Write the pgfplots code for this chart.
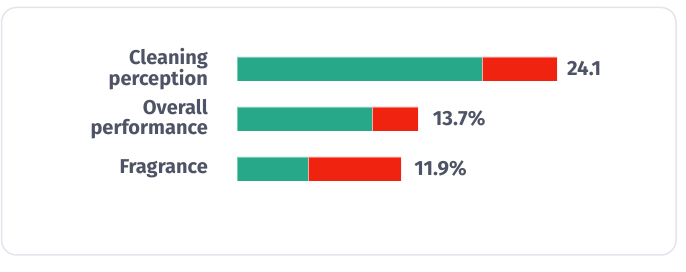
\documentclass[border=0pt]{standalone}
\usepackage{pgfplots}
\pgfplotsset{compat=1.18}
\usepackage{fontspec}
\setmainfont{Fira Sans}
\definecolor{cgreen}{HTML}{27A889}
\definecolor{cred}{HTML}{F02311}
\definecolor{ctext}{HTML}{4E5465}
\definecolor{cframe}{HTML}{E4E4EC}
\begin{document}
\begin{tikzpicture}[x=1pt,y=1pt]
\path (0,0) rectangle (686,272);
\draw[cframe, line width=1.5pt, rounded corners=15pt] (1.5,272-255) rectangle (676,272-7.5);
\begin{axis}[
  at={(237pt,78pt)}, anchor=south west,
  scale only axis, width=400pt, height=150pt,
  xbar stacked, bar width=24pt,
  xmin=0, xmax=30.12, ymin=-0.5, ymax=2.5,
  axis line style={draw=none},
  xtick=\empty,
  ytick={0,1,2},
  yticklabels={Fragrance,{Overall\\performance},{Cleaning\\perception}},
  yticklabel style={align=right, font=\fontsize{20}{19.5}\selectfont\bfseries, text=ctext, inner sep=0pt, xshift=-29pt},
  major tick length=0pt,
  clip=false,
]
\addplot[fill=cgreen, draw=white, draw opacity=0.4, line width=0.5pt] coordinates {(5.35,0) (10.17,1) (18.45,2)};
\addplot[fill=cred, draw=white, draw opacity=0.4, line width=0.5pt] coordinates {(7.0,0) (3.46,1) (5.65,2)};
\node[anchor=west, text=ctext, font=\fontsize{20.5}{20}\selectfont\bfseries, inner sep=0pt] at (axis cs:13.35,0) {11.9\%};
\node[anchor=west, text=ctext, font=\fontsize{20.5}{20}\selectfont\bfseries, inner sep=0pt] at (axis cs:14.74,1) {13.7\%};
\node[anchor=west, text=ctext, font=\fontsize{20.5}{20}\selectfont\bfseries, inner sep=0pt] at (axis cs:24.85,2) {24.1};
\end{axis}
\end{tikzpicture}
\end{document}
